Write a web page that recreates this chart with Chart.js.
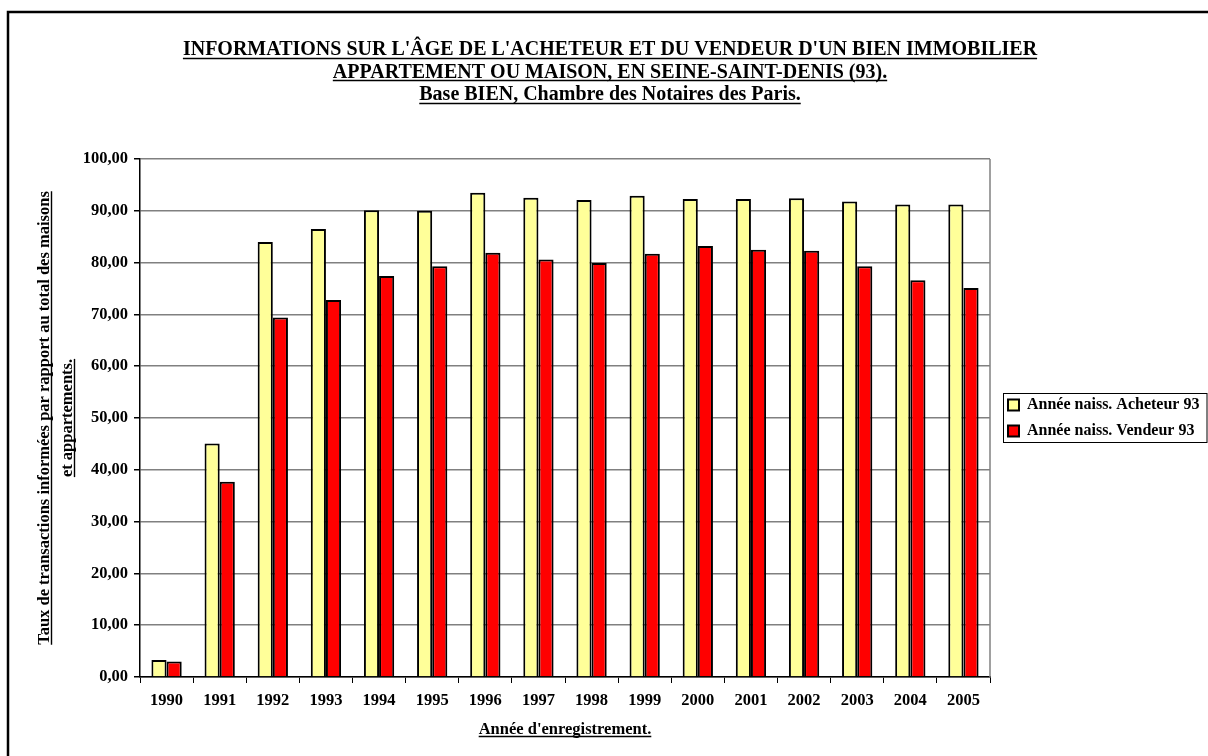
<!DOCTYPE html>
<html>
<head>
<meta charset="utf-8">
<script src="https://cdn.jsdelivr.net/npm/chart.js@4/dist/chart.umd.min.js"></script>
<style>
html,body{margin:0;padding:0;background:#fff;}
canvas{display:block;}
</style>
</head>
<body>
<canvas id="c" width="1208" height="756"></canvas>
<script>
// ---- data ----
const years = ['1990','1991','1992','1993','1994','1995','1996','1997','1998','1999','2000','2001','2002','2003','2004','2005'];
const acheteur93 = [3.3, 45.1, 84.0, 86.5, 90.1, 90.0, 93.5, 92.5, 92.1, 92.9, 92.3, 92.3, 92.4, 91.8, 91.2, 91.2];
const vendeur93  = [3.0, 37.7, 69.4, 72.8, 77.4, 79.3, 81.9, 80.6, 79.9, 81.7, 83.2, 82.5, 82.3, 79.3, 76.6, 75.1];
const seriesNames = ['Année naiss. Acheteur 93', 'Année naiss. Vendeur 93'];
const titleLines = [
  "INFORMATIONS SUR L'ÂGE DE L'ACHETEUR ET DU VENDEUR D'UN BIEN IMMOBILIER",
  "APPARTEMENT OU MAISON, EN SEINE-SAINT-DENIS (93).",
  "Base BIEN, Chambre des Notaires des Paris."
];
const yTitleLines = ['Taux de transactions informées par rapport au total des maisons', 'et appartements.'];
const xTitleText = "Année d'enregistrement.";
const yMin = 0, yMax = 100, yStep = 10;

// ---- styles ----
const FAM = '"Liberation Serif", "Times New Roman", serif';
const T_SIZE = 20, T_LH = 22.5, T_PAD_TOP = 39, T_PAD_BOT = 52.5;
const YT_SIZE = 16.5, YT_LH = 23, YT_PAD = 21.5;
const XT_SIZE = 16.5, XT_LH = 18, XT_PAD = 17;
const TICK_SIZE = 16.5;
const LEG_SIZE = 16;
const LEG_W = 218, LEG_SHIFT = 8;

function fontStr(size){ return 'bold ' + size + 'px ' + FAM; }
function underline(ctx, text, cx, midY, size){
  ctx.save();
  ctx.font = fontStr(size);
  ctx.textBaseline = 'middle';
  const w = ctx.measureText(text).width;
  const d = ctx.measureText('H').actualBoundingBoxDescent;
  const y = Math.round(midY + d + size * 0.12) + 0.5;
  ctx.strokeStyle = '#000';
  ctx.lineWidth = 1.4;
  ctx.beginPath();
  ctx.moveTo(cx - w / 2, y);
  ctx.lineTo(cx + w / 2, y);
  ctx.stroke();
  ctx.restore();
}

const decor = {
  id: 'decor',
  beforeUpdate(chart){
    const lg = chart.legend;
    if (lg && !lg._wrapped){
      const orig = lg.fit;
      lg.fit = function(){ orig.call(this); this.width = LEG_W; };
      lg._wrapped = true;
    }
  },
  afterLayout(chart){
    const lg = chart.legend, a = chart.chartArea;
    if (lg){
      lg.left += LEG_SHIFT; lg.right += LEG_SHIFT;
      lg.top = a.top; lg.bottom = a.bottom; lg.height = a.bottom - a.top;
    }
  },
  beforeDraw(chart){
    const ctx = chart.ctx;
    ctx.save();
    ctx.fillStyle = '#fff';
    ctx.fillRect(0, 0, chart.width, chart.height);
    ctx.strokeStyle = '#000';
    ctx.lineWidth = 2.5;
    ctx.strokeRect(8, 12, 1400, 1000);
    ctx.restore();
  },
  beforeDatasetsDraw(chart){
    const ctx = chart.ctx, a = chart.chartArea;
    ctx.save();
    ctx.strokeStyle = '#808080';
    ctx.lineWidth = 1.5;
    ctx.beginPath();
    ctx.moveTo(Math.round(a.right), a.top);
    ctx.lineTo(Math.round(a.right), a.bottom);
    ctx.stroke();
    ctx.restore();
  },
  afterDraw(chart){
    const ctx = chart.ctx;
    const tb = chart.titleBlock;
    const tcx = (tb.left + tb.right) / 2;
    titleLines.forEach((t, i) => underline(ctx, t, tcx, tb.top + T_PAD_TOP + T_LH / 2 + i * T_LH, T_SIZE));
    const ys = chart.scales.y;
    ctx.save();
    ctx.translate(ys.left + YT_LH / 2 + YT_PAD, (ys.top + ys.bottom) / 2);
    ctx.rotate(-Math.PI / 2);
    yTitleLines.forEach((t, i) => underline(ctx, t, 0, i * YT_LH, YT_SIZE));
    ctx.restore();
    const xs = chart.scales.x;
    underline(ctx, xTitleText, (xs.left + xs.right) / 2, xs.bottom - (XT_LH / 2 + XT_PAD), XT_SIZE);
    ctx.save();
    ctx.strokeStyle = '#000';
    ctx.lineWidth = 1;
    ctx.strokeRect(1003.5, 393.5, 203.5, 49);
    ctx.restore();
  }
};

new Chart(document.getElementById('c'), {
  type: 'bar',
  data: {
    labels: years,
    datasets: [
      { label: seriesNames[0], data: acheteur93, backgroundColor: '#FFFF99', borderColor: '#000', borderWidth: 2, borderSkipped: 'bottom' },
      { label: seriesNames[1], data: vendeur93, backgroundColor: '#FF0000', borderColor: '#000', borderWidth: 2, borderSkipped: 'bottom' }
    ]
  },
  plugins: [decor],
  options: {
    responsive: false,
    devicePixelRatio: 1,
    animation: false,
    layout: { padding: { left: 12, right: 0, top: 0, bottom: 0 } },
    datasets: { bar: { categoryPercentage: 0.57, barPercentage: 1.0 } },
    plugins: {
      tooltip: { enabled: false },
      title: {
        display: true,
        text: titleLines,
        color: '#000',
        font: { family: FAM, size: T_SIZE, weight: 'bold', lineHeight: T_LH / T_SIZE },
        padding: { top: T_PAD_TOP, bottom: T_PAD_BOT }
      },
      legend: {
        position: 'right',
        align: 'center',
        labels: {
          color: '#000',
          font: { family: FAM, size: LEG_SIZE, weight: 'bold' },
          boxWidth: 11,
          boxHeight: 11,
          padding: 10
        }
      }
    },
    scales: {
      x: {
        afterFit(s){ s.height = 79; },
        grid: { display: true, drawOnChartArea: false, drawTicks: true, tickLength: 6, tickColor: '#000', offset: true },
        border: { display: true, color: '#000', width: 1.5 },
        ticks: { color: '#000', font: { family: FAM, size: TICK_SIZE, weight: 'bold' }, padding: 8, maxRotation: 0, autoSkip: false },
        title: {
          display: true,
          text: xTitleText,
          color: '#000',
          font: { family: FAM, size: XT_SIZE, weight: 'bold', lineHeight: XT_LH / XT_SIZE },
          padding: { top: 0, bottom: XT_PAD }
        }
      },
      y: {
        min: yMin, max: yMax,
        afterFit(s){ s.width = 128; },
        grid: { color: '#808080', lineWidth: 1.5, drawTicks: true, tickLength: 6, tickColor: '#000' },
        border: { display: true, color: '#000', width: 1.5 },
        ticks: {
          stepSize: yStep,
          color: '#000',
          font: { family: FAM, size: TICK_SIZE, weight: 'bold' },
          padding: 6,
          callback: v => Number(v).toFixed(2).replace('.', ',')
        },
        title: {
          display: true,
          text: yTitleLines,
          color: '#000',
          font: { family: FAM, size: YT_SIZE, weight: 'bold', lineHeight: YT_LH / YT_SIZE },
          padding: { top: YT_PAD, bottom: 0 }
        }
      }
    }
  }
});
</script>
</body>
</html>
